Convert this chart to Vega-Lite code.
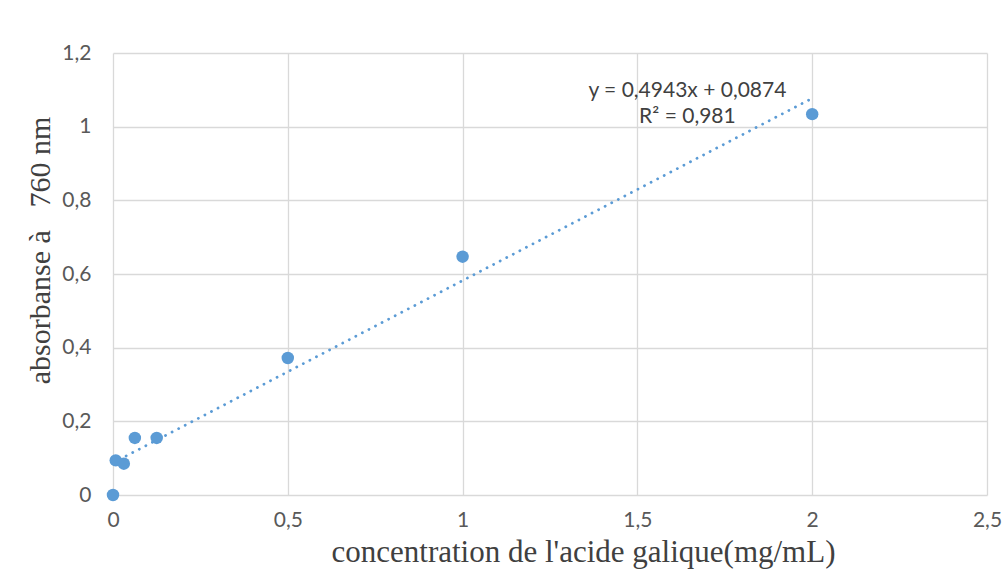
{
  "$schema": "https://vega.github.io/schema/vega-lite/v6.json",
  "width": 874,
  "height": 442,
  "autosize": {"type": "none"},
  "padding": {"left": 113, "top": 53, "right": 20, "bottom": 85},
  "background": "white",
  "config": {
    "view": {"stroke": null},
    "axis": {
      "labelFont": "Lato",
      "labelFontSize": 21,
      "labelColor": "#595959",
      "labelFlush": false,
      "labelOverlap": false,
      "gridColor": "#d9d9d9",
      "gridWidth": 1.3,
      "domain": false,
      "ticks": false,
      "titleFont": "Liberation Serif",
      "titleFontWeight": "normal",
      "titleColor": "#404040"
    }
  },
  "datasets": {
    "pts": [
      {"c": 0, "a": 0},
      {"c": 0.0078, "a": 0.094},
      {"c": 0.031, "a": 0.085},
      {"c": 0.0625, "a": 0.155},
      {"c": 0.125, "a": 0.155},
      {"c": 0.5, "a": 0.372},
      {"c": 1, "a": 0.647},
      {"c": 2, "a": 1.034}
    ],
    "eq": [
      {"c": 1.643, "a": 1.098, "t": "y = 0,4943x + 0,0874"},
      {"c": 1.643, "a": 1.025, "t": "R² = 0,981"}
    ]
  },
  "layer": [
    {
      "data": {"name": "pts"},
      "transform": [{"regression": "a", "on": "c", "method": "linear"}],
      "mark": {"type": "line", "color": "#5B9BD5", "strokeWidth": 2.8, "strokeDash": [0.1, 7.3], "strokeCap": "round"},
      "encoding": {
        "x": {
          "field": "c", "type": "quantitative",
          "scale": {"domain": [0, 2.5], "nice": false},
          "axis": {
            "values": [0, 0.5, 1, 1.5, 2, 2.5],
            "labelExpr": "replace(format(datum.value, '~g'), '.', ',')",
            "labelPadding": 14,
            "title": "concentration de l'acide galique(mg/mL)",
            "titleFontSize": 31,
            "titleX": 470,
            "titleY": 66,
            "titleAlign": "center",
            "titleBaseline": "alphabetic"
          }
        },
        "y": {
          "field": "a", "type": "quantitative",
          "scale": {"domain": [0, 1.2], "nice": false},
          "axis": {
            "values": [0, 0.2, 0.4, 0.6, 0.8, 1, 1.2],
            "labelExpr": "replace(format(datum.value, '~g'), '.', ',')",
            "labelPadding": 22,
            "title": "absorbanse à\u00a0\u00a0\u00a0760 nm",
            "titleFontSize": 30,
            "titleX": -64,
            "titleY": 197,
            "titleAngle": -90,
            "titleAlign": "center",
            "titleBaseline": "alphabetic"
          }
        }
      }
    },
    {
      "data": {"name": "pts"},
      "mark": {"type": "circle", "size": 155, "opacity": 1, "color": "#5B9BD5"},
      "encoding": {
        "x": {"field": "c", "type": "quantitative"},
        "y": {"field": "a", "type": "quantitative"}
      }
    },
    {
      "data": {"name": "eq"},
      "mark": {"type": "text", "font": "Lato", "fontSize": 21, "color": "#404040", "align": "center", "baseline": "middle"},
      "encoding": {
        "x": {"field": "c", "type": "quantitative"},
        "y": {"field": "a", "type": "quantitative"},
        "text": {"field": "t"}
      }
    }
  ]
}
